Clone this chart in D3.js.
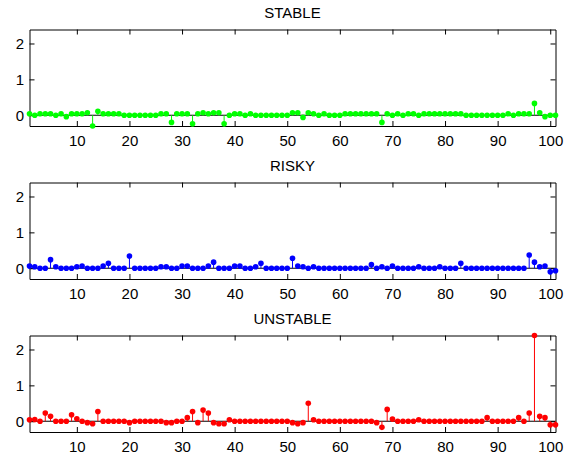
<!DOCTYPE html>
<html>
<head>
<meta charset="utf-8">
<script src="https://cdn.jsdelivr.net/npm/d3@7"></script>
<style>
  html, body { margin: 0; padding: 0; background: #fff; }
  svg { display: block; }
  text { font-family: "Liberation Sans", Arial, sans-serif; }
</style>
</head>
<body>
<svg id="chart" width="565" height="457"></svg>
<script>
const titles = ["STABLE", "RISKY", "UNSTABLE"];
const colors = ["#00ff00", "#0000ff", "#ff0000"];
const xTicks = [10, 20, 30, 40, 50, 60, 70, 80, 90, 100];
const yTicks = [0, 1, 2];

const stable = [
  0.04,0,0.04,0.04,0.04,0,0.04,-0.04,0.04,0.04,
  0.04,0.07,-0.3,0.11,0.04,0.04,0.04,0.04,0,0,
  0,0,0,0,0,0.04,0.04,-0.2,0.04,0.04,
  0.04,-0.24,0.04,0.07,0.04,0.07,0.07,-0.24,0,0.04,
  0.04,0,0.04,0,0,0,0,0,0,0,
  0.07,0.07,-0.06,0.07,0.04,0,0.04,0,0,0,
  0.04,0.04,0.04,0.04,0.04,0.04,0.04,-0.2,0.04,0,
  0.04,0,0.04,0.04,0,0.04,0.04,0.04,0.04,0.04,
  0.04,0.04,0.04,0,0,0,0,0,0,0,
  0,0.04,0,0.04,0.04,0.04,0.33,0.07,-0.04,0,
  0
];
const risky = [
  0.06,0.04,0,0,0.24,0.04,0,0,0,0.04,
  0.06,0,0,0,0.06,0.14,0,0,0,0.34,
  0,0,0,0,0,0.04,0.04,0,0,0.06,
  0.06,0,0,0,0.06,0.17,0,0,0,0.06,
  0.06,0,0,0.04,0.14,0,0,0,0,0,
  0.28,0.06,0.04,0,0.04,0,0,0,0,0,
  0,0,0,0,0,0.1,0,0.04,0,0.06,
  0,0,0,0,0.04,0,0,0,0.04,0,
  0,0,0.14,0,0,0,0,0,0,0,
  0,0,0,0,0,0.37,0.17,0.04,0.06,-0.1,
  -0.07
];
const unstable = [
  0.04,0.05,0,0.23,0.14,0,0,0,0.18,0.07,
  0,-0.04,-0.07,0.27,0,0,0,0,0,-0.04,
  0,0,0,0,0,0,-0.04,-0.04,0,0,
  0.1,0.27,-0.04,0.31,0.23,-0.04,-0.07,-0.07,0.04,0,
  0,0,0,0,0,0,0,0,0,0,
  -0.04,-0.07,-0.04,0.5,0.04,0,0,0,0,0,
  0,0,0,0,0,0,-0.04,-0.17,0.33,0.06,
  0,0,0,0,0.04,0,0,0,0,0,
  0,0,0,0,0,0,0,0.1,0,0,
  0,0,0,0.1,0,0.23,2.39,0.14,0.1,-0.1,
  -0.1
];
const series = [stable, risky, unstable];

const svg = d3.select("#chart");
const left = 29.5, right = 555.5, panelH = 96.5;
const tops = [29.5, 182.5, 335.5];

const x = d3.scaleLinear().domain([1, 101]).range([left, right]);

series.forEach((vals, i) => {
  const top = tops[i];
  const y = d3.scaleLinear().domain([-0.3, 2.39]).range([top + panelH, top]);
  const g = svg.append("g");
  const col = colors[i];

  const styleAxis = sel => {
    sel.selectAll("path.domain").attr("stroke", "#000").attr("stroke-width", 1);
    sel.selectAll(".tick line").attr("stroke", "#000");
    sel.selectAll("text").attr("font-size", 15).attr("fill", "#000")
      .style("font-family", '"Liberation Sans", Arial, sans-serif');
  };
  g.append("g").attr("transform", `translate(0,${top + panelH})`)
    .call(d3.axisBottom(x).tickValues(xTicks).tickSizeInner(-5).tickSizeOuter(0).tickPadding(9))
    .call(styleAxis);
  g.append("g").attr("transform", `translate(0,${top})`)
    .call(d3.axisTop(x).tickValues(xTicks).tickSizeInner(-5).tickSizeOuter(0).tickFormat(""))
    .call(styleAxis);
  g.append("g").attr("transform", `translate(${left},0)`)
    .call(d3.axisLeft(y).tickValues(yTicks).tickSizeInner(-5).tickSizeOuter(0).tickPadding(5.5).tickFormat(d3.format("d")))
    .call(styleAxis);
  g.append("g").attr("transform", `translate(${right},0)`)
    .call(d3.axisRight(y).tickValues(yTicks).tickSizeInner(-5).tickSizeOuter(0).tickFormat(""))
    .call(styleAxis);

  g.append("text")
    .attr("x", (left + right) / 2)
    .attr("y", top - 12)
    .attr("text-anchor", "middle")
    .attr("font-size", 15)
    .attr("fill", "#000")
    .text(titles[i]);

  g.append("line")
    .attr("x1", x(1)).attr("x2", x(101))
    .attr("y1", y(0)).attr("y2", y(0))
    .attr("stroke", "#000").attr("stroke-width", 1);

  const pts = vals.map((v, k) => ({ n: k + 1, v }));

  g.selectAll("line.stem").data(pts).join("line")
    .attr("class", "stem")
    .attr("x1", d => x(d.n)).attr("x2", d => x(d.n))
    .attr("y1", y(0)).attr("y2", d => y(d.v))
    .attr("stroke", col).attr("stroke-width", 1);

  g.selectAll("circle.mk").data(pts).join("circle")
    .attr("class", "mk")
    .attr("cx", d => x(d.n)).attr("cy", d => y(d.v))
    .attr("r", 2.8)
    .attr("fill", col);
});
</script>
</body>
</html>
